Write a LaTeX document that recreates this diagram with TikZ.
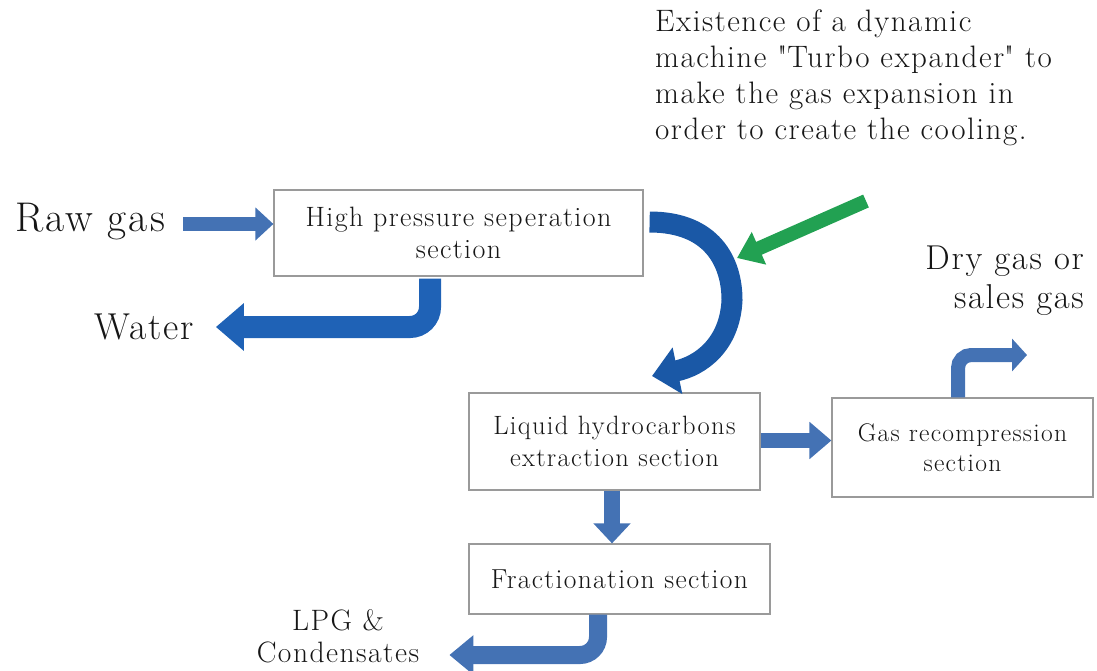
\documentclass[tikz,border=0pt]{standalone}
\usepackage{fontspec}
\setmainfont{Latin Modern Roman}[LetterSpace=5]
\usetikzlibrary{arrows.meta,calc}
\definecolor{boxgray}{HTML}{9A9A9A}
\definecolor{steel}{HTML}{4472B4}
\definecolor{deepblue}{HTML}{1F62B6}
\definecolor{curveblue}{HTML}{1A58A6}
\definecolor{arrgreen}{HTML}{22A152}
\definecolor{txt}{HTML}{161616}
\newcommand{\fs}[2]{\fontsize{#1}{#2}\selectfont}
\begin{document}
\begin{tikzpicture}[x=1pt,y=-1pt,
  secbox/.style={draw=boxgray,line width=1.2pt,fill=white,inner sep=0pt,align=center,text=txt},
  lbl/.style={inner sep=0pt,text=txt},
  flow/.style={line width=15pt,draw=steel},
]
\useasboundingbox (0,0) rectangle (1097,670);
% boxes
\node[secbox,minimum width=369pt,minimum height=86pt,font=\fs{28}{32}] (hp) at (458.5,233) {High pressure seperation\\section};
\node[secbox,minimum width=291pt,minimum height=97pt,font=\fs{26.5}{32}] (liq) at (614.5,441.5) {Liquid hydrocarbons\\extraction section};
\node[secbox,minimum width=261pt,minimum height=99pt,font=\fs{25.5}{30}] (gas) at (962.5,447.5) {Gas recompression\\section};
\node[secbox,minimum width=301pt,minimum height=70pt,font=\fs{27.5}{32}] (frac) at (619.5,579) {Fractionation section};
% labels
\node[lbl,font=\fs{41.5}{44}] (raw) at (90,222) {Raw gas};
\node[lbl,font=\fs{37.5}{40}] (water) at (144,327) {Water};
\node[lbl,font=\fs{34.5}{39},align=right,anchor=east] (dry) at (1084,281) {Dry gas or\\sales gas};
\node[lbl,font=\fs{29.5}{32},align=center] (lpg) at (338,636) {LPG \&\\Condensates};
\node[lbl,font=\fs{31}{36},align=left,anchor=north west] (note) at (655,10) {Existence of a dynamic\\machine \textquotedbl Turbo expander\textquotedbl{} to\\make the gas expansion in\\order to create the cooling.};
% free ends
\coordinate (cend) at (652,376);
\coordinate (gstart) at (866,201);
\coordinate (gtip) at (737,258);
\coordinate (drytip) at (1027,355);
% raw gas -> hp
\draw[flow,line width=14pt,-{Triangle[length=18pt,width=32pt]}] ([xshift=18pt,yshift=-2pt]raw.east) -- ([yshift=-2pt]raw.east -| hp.west);
% hp -> water
\draw[line width=22pt,draw=deepblue,rounded corners=20pt,-{Triangle[length=28pt,width=46pt]}] ([xshift=-28.5pt,yshift=-2pt]hp.south) |- ([xshift=22pt]water.east);
% curved hp -> liq
\draw[line width=21pt,draw=curveblue,-{Triangle[length=26pt,width=46pt]}] ([yshift=11pt,xshift=6pt]hp.east) .. controls (712,222) and (732,262) .. (732,300) .. controls (730,345) and (700,366) .. (cend);
% green turbo expander arrow
\draw[line width=14pt,draw=arrgreen,-{Triangle[length=24pt,width=34pt]}] (gstart) -- (gtip);
% liq -> gas
\draw[flow,line width=15pt,-{Triangle[length=22pt,width=36pt]}] ([yshift=1pt]liq.east) -- ([yshift=1pt]liq.east -| gas.west);
% liq -> frac
\draw[flow,line width=16pt,-{Triangle[length=20pt,width=36pt]}] ([xshift=-2.5pt]liq.south) -- ([xshift=-2.5pt]liq.south |- frac.north);
% gas -> dry gas
\draw[flow,line width=14pt,rounded corners=13pt,-{Triangle[length=15pt,width=32pt]}] ([xshift=-4.5pt]gas.north) |- (drytip);
% frac -> lpg
\draw[flow,line width=18pt,rounded corners=18pt,-{Triangle[length=24pt,width=38pt]}] ([xshift=-21.5pt]frac.south) |- ([xshift=30pt,yshift=-19pt]lpg.east);
\end{tikzpicture}
\end{document}
